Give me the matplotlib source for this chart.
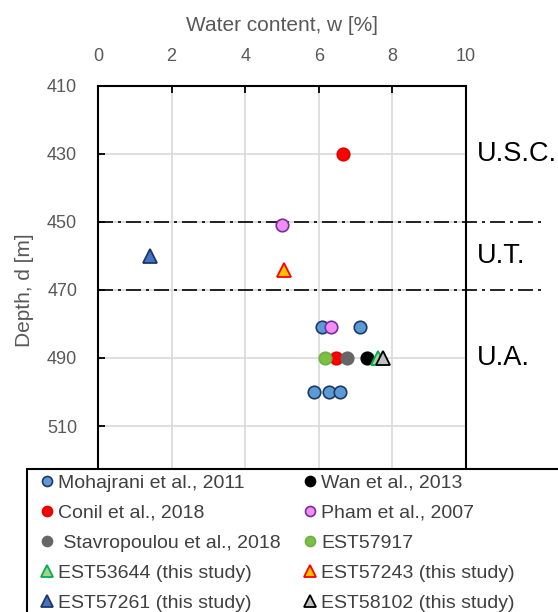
import matplotlib
matplotlib.use("Agg")
import matplotlib.pyplot as plt
from matplotlib.patches import Rectangle

plt.rcParams['font.family'] = ['Liberation Sans', 'DejaVu Sans']

# data: (water content %, depth m)
moh_w = [6.08, 7.12, 5.88, 6.28, 6.58]
moh_d = [481, 481, 500, 500, 500]
wan_w = [7.30]
wan_d = [490]
conil_w = [6.65, 6.47]
conil_d = [430, 490]
pham_w = [5.0, 6.33]
pham_d = [451, 481]
stav_w = [6.77]
stav_d = [490]
e57917_w = [6.18]
e57917_d = [490]
e53644_w = [7.62]
e53644_d = [490]
e57243_w = [5.05]
e57243_d = [464]
e57261_w = [1.4]
e57261_d = [460]
e58102_w = [7.74]
e58102_d = [490]

unit_bounds = [450, 470]
unit_labels = ["U.S.C.", "U.T.", "U.A."]
unit_label_depth = [430, 460, 490]

gray_txt = "#595959"

fig = plt.figure(figsize=(5.58, 6.12), dpi=100)
ax = fig.add_axes([0.1756, 0.1928, 0.6595, 0.6667])

ms = 9
circ = dict(marker="o", linestyle="none", markersize=ms, markeredgewidth=1.2)
tri = dict(marker="^", linestyle="none", markersize=10.5, markeredgewidth=1.3)

h = {}
h["Mohajrani et al., 2011"] = ax.plot(moh_w, moh_d, mfc="#5B9BD5", mec="#1F3864", zorder=3, **circ)[0]
h["Wan et al., 2013"] = ax.plot(wan_w, wan_d, mfc="black", mec="black", zorder=3, **circ)[0]
h["Conil et al., 2018"] = ax.plot(conil_w, conil_d, mfc="#FF0000", mec="#E00000", zorder=3, **circ)[0]
h["Pham et al., 2007"] = ax.plot(pham_w, pham_d, mfc="#F48CF4", mec="#7030A0", zorder=4, **circ)[0]
h[" Stavropoulou et al., 2018"] = ax.plot(stav_w, stav_d, mfc="#666666", mec="#666666", zorder=3, **circ)[0]
h["EST57917"] = ax.plot(e57917_w, e57917_d, mfc="#7AC142", mec="#70AD47", zorder=3, **circ)[0]
h["EST53644 (this study)"] = ax.plot(e53644_w, e53644_d, mfc="#A9D18E", mec="#00B050", zorder=4, **tri)[0]
h["EST57243 (this study)"] = ax.plot(e57243_w, e57243_d, mfc="#FFC000", mec="#FF0000", zorder=4, **tri)[0]
h["EST57261 (this study)"] = ax.plot(e57261_w, e57261_d, mfc="#4472C4", mec="#1F3864", zorder=4, **tri)[0]
h["EST58102 (this study)"] = ax.plot(e58102_w, e58102_d, mfc="#BFBFBF", mec="black", zorder=5, **tri)[0]

# unit boundaries, running past the plot to the right
for d in unit_bounds:
    ax.plot([0, 12.15], [d, d], color="black", lw=1.2, linestyle=(0, (9, 3, 1.8, 3)),
            clip_on=False, zorder=2)
for lab, d in zip(unit_labels, unit_label_depth):
    ax.text(10.3, d, lab, fontsize=19.5, va="center", ha="left", color="black")

ax.set_xlim(0, 10)
ax.set_ylim(530, 410)
ax.set_xticks([0, 2, 4, 6, 8, 10])
ax.set_yticks([410, 430, 450, 470, 490, 510])
ax.xaxis.tick_top()
ax.xaxis.set_label_position("top")
ax.set_xlabel("Water content, w [%]", fontsize=15, color=gray_txt, labelpad=12)
ax.set_ylabel("Depth, d [m]", fontsize=15, color=gray_txt, labelpad=9)
ax.tick_params(direction="in", length=5, width=1.3, labelsize=13, labelcolor=gray_txt)
ax.tick_params(axis="x", pad=15)
ax.tick_params(axis="y", pad=15)
ax.grid(True, color="#D9D9D9", lw=1.2)
ax.set_axisbelow(True)
for s in ax.spines.values():
    s.set_linewidth(1.5)
    s.set_color("black")

# legend box runs off the right and bottom edges of the figure
fig.add_artist(Rectangle((27 / 558, -0.05), 1.0, 1 - 469 / 612 + 0.05, transform=fig.transFigure,
                         facecolor="white", edgecolor="black", lw=1.5, zorder=4))

# matplotlib fills legend columns first, so order column by column
order = ["Mohajrani et al., 2011", "Conil et al., 2018", " Stavropoulou et al., 2018",
         "EST53644 (this study)", "EST57261 (this study)",
         "Wan et al., 2013", "Pham et al., 2007", "EST57917",
         "EST57243 (this study)", "EST58102 (this study)"]
leg = fig.legend([h[k] for k in order], order, ncol=2, loc="upper left",
                 bbox_to_anchor=(40 / 558, 1 - 474 / 612), fontsize=14,
                 frameon=False, borderaxespad=0, borderpad=0,
                 markerscale=0.8, handlelength=0.7, handletextpad=0.2,
                 columnspacing=1.2, labelspacing=0.64)
leg.set_zorder(6)
for t in leg.get_texts():
    t.set_color("#404040")

fig.savefig("out.png", dpi=100)
